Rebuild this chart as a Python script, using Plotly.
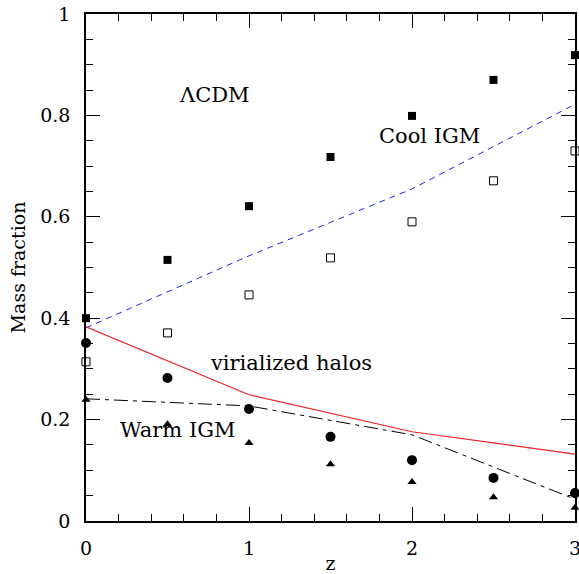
import plotly.graph_objects as go

# Redshift grid of the simulation outputs
z = [0, 0.5, 1, 1.5, 2, 2.5, 3]

# Mass fractions per component
cool_filled = [0.400, 0.515, 0.621, 0.718, 0.799, 0.870, 0.919]
cool_open = [0.314, 0.371, 0.446, 0.519, 0.590, 0.671, 0.730]
halos = [0.351, 0.282, 0.221, 0.166, 0.120, 0.085, 0.055]
warm = [0.239, 0.191, 0.154, 0.112, 0.077, 0.047, 0.026]

# Model curves
z_model = [0, 1, 2, 3]
cool_model = [0.381, 0.523, 0.655, 0.822]
halo_model = [0.383, 0.249, 0.176, 0.132]
warm_model = [0.241, 0.227, 0.170, 0.043]

FONT = "DejaVu Serif"

fig = go.Figure()

fig.add_trace(go.Scatter(x=z_model, y=cool_model, mode="lines",
                         line=dict(color="#2222ee", width=1, dash="6px,5px"),
                         cliponaxis=False))
fig.add_trace(go.Scatter(x=z_model, y=halo_model, mode="lines",
                         line=dict(color="#ee2222", width=1.2),
                         cliponaxis=False))
fig.add_trace(go.Scatter(x=z_model, y=warm_model, mode="lines",
                         line=dict(color="black", width=1, dash="14px,5px,4px,5px"),
                         cliponaxis=False))

fig.add_trace(go.Scatter(x=z, y=cool_filled, mode="markers",
                         marker=dict(symbol="square", size=8, color="black"),
                         cliponaxis=False))
fig.add_trace(go.Scatter(x=z, y=cool_open, mode="markers",
                         marker=dict(symbol="square-open", size=8, color="black",
                                     line=dict(width=1)),
                         cliponaxis=False))
fig.add_trace(go.Scatter(x=z, y=halos, mode="markers",
                         marker=dict(symbol="circle", size=10, color="black"),
                         cliponaxis=False))
fig.add_trace(go.Scatter(x=z, y=warm, mode="markers",
                         marker=dict(symbol="triangle-up", size=8, color="black"),
                         cliponaxis=False))

labels = [
    ("ΛCDM", 0.79, 0.840),
    ("Cool IGM", 2.11, 0.760),
    ("virialized halos", 1.26, 0.312),
    ("Warm IGM", 0.56, 0.180),
]
for text, x, y in labels:
    fig.add_annotation(x=x, y=y, text=text, showarrow=False,
                       font=dict(family=FONT, size=21, color="black"))

axis_common = dict(
    showline=True, linecolor="black", linewidth=1.5, mirror="ticks",
    ticks="inside", tickcolor="black", tickwidth=1.2, ticklen=14,
    showgrid=False, zeroline=False, ticklabeloverflow="allow",
    automargin=False,
    tickfont=dict(family=FONT, size=19, color="black"),
)

fig.update_xaxes(range=[0, 3], dtick=1, tick0=0, ticklabelstandoff=9,
                 minor=dict(dtick=0.2, ticks="inside", ticklen=7,
                            tickcolor="black", tickwidth=1.2),
                 title=dict(text="z", font=dict(family=FONT, size=19, color="black"),
                            standoff=2),
                 **axis_common)
fig.update_yaxes(range=[0, 1], dtick=0.2, tick0=0, ticklabelstandoff=10,
                 minor=dict(dtick=0.05, ticks="inside", ticklen=7,
                            tickcolor="black", tickwidth=1.2),
                 title=dict(text="Mass fraction",
                            font=dict(family=FONT, size=19, color="black"),
                            standoff=10),
                 **axis_common)

fig.update_layout(
    width=579, height=574,
    margin=dict(l=86, r=4, t=14, b=53),
    paper_bgcolor="white", plot_bgcolor="white",
    showlegend=False,
)

fig.write_html("out.html")
